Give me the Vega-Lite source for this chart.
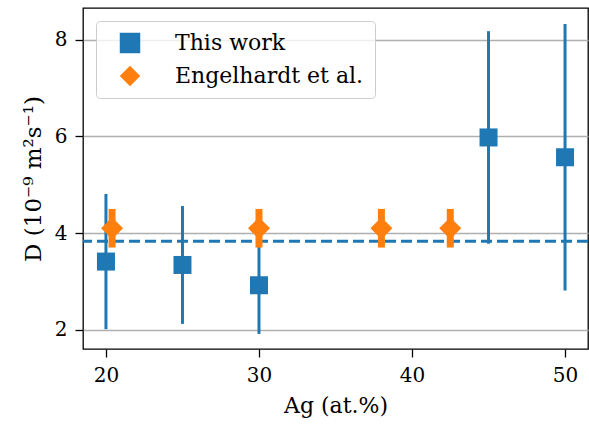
{
  "$schema": "https://vega.github.io/schema/vega-lite/v6.json",
  "width": 505,
  "height": 341,
  "autosize": {"type": "none"},
  "padding": {"left": 83, "top": 8, "right": 1, "bottom": 75},
  "config": {
    "font": "DejaVu Serif",
    "view": {"stroke": "black", "strokeWidth": 1.3},
    "axis": {
      "domain": false,
      "tickColor": "black",
      "tickSize": 8,
      "tickWidth": 1.3,
      "labelFont": "DejaVu Serif",
      "labelFontSize": 20,
      "labelColor": "black",
      "labelPadding": 8,
      "titleFont": "DejaVu Serif",
      "titleFontSize": 22,
      "titleFontWeight": "normal",
      "titleColor": "black",
      "titlePadding": 10
    },
    "legend": {
      "orient": "top-left",
      "offset": 13,
      "padding": 11,
      "labelFont": "DejaVu Serif",
      "labelFontSize": 22,
      "labelColor": "black",
      "labelLimit": 400,
      "symbolSize": 420,
      "symbolOffset": 12,
      "labelOffset": 34,
      "rowPadding": 11,
      "strokeColor": "#cccccc",
      "fillColor": "rgba(255,255,255,0.8)",
      "cornerRadius": 4,
      "symbolStrokeWidth": 0
    }
  },
  "datasets": {
    "pts": [
      {"series": "This work", "ag": 20, "D": 3.41, "lo": 2.01, "hi": 4.81},
      {"series": "This work", "ag": 25, "D": 3.34, "lo": 2.12, "hi": 4.56},
      {"series": "This work", "ag": 30, "D": 2.92, "lo": 1.91, "hi": 3.93},
      {"series": "This work", "ag": 45, "D": 5.98, "lo": 3.78, "hi": 8.18},
      {"series": "This work", "ag": 50, "D": 5.57, "lo": 2.81, "hi": 8.33},
      {"series": "Engelhardt et al.", "ag": 20.4, "D": 4.1, "lo": 3.7, "hi": 4.5},
      {"series": "Engelhardt et al.", "ag": 30, "D": 4.1, "lo": 3.7, "hi": 4.5},
      {"series": "Engelhardt et al.", "ag": 38, "D": 4.1, "lo": 3.7, "hi": 4.5},
      {"series": "Engelhardt et al.", "ag": 42.5, "D": 4.1, "lo": 3.7, "hi": 4.5}
    ],
    "mean": [{"D": 3.83}]
  },
  "layer": [
    {
      "data": {"name": "mean"},
      "mark": {"type": "rule", "color": "#1f77b4", "strokeWidth": 3, "strokeDash": [11, 5]},
      "encoding": {
        "y": {"field": "D", "type": "quantitative", "scale": {"domain": [1.6, 8.66], "nice": false, "zero": false},
          "axis": {"values": [2, 4, 6, 8], "grid": true, "gridColor": "#b0b0b0", "gridWidth": 1.3, "title": "D (10⁻⁹ m²s⁻¹)", "titleFontSize": 23, "titlePadding": 9}}
      }
    },
    {
      "data": {"name": "pts"},
      "transform": [{"filter": "datum.series === 'This work'"}],
      "mark": {"type": "rule", "color": "#1f77b4", "strokeWidth": 3},
      "encoding": {
        "x": {"field": "ag", "type": "quantitative", "scale": {"domain": [18.5, 51.5], "nice": false, "zero": false},
          "axis": {"values": [20, 30, 40, 50], "grid": false, "title": "Ag (at.%)"}},
        "y": {"field": "lo", "type": "quantitative"},
        "y2": {"field": "hi"}
      }
    },
    {
      "data": {"name": "pts"},
      "transform": [{"filter": "datum.series !== 'This work'"}],
      "mark": {"type": "rule", "color": "#ff7f0e", "strokeWidth": 7},
      "encoding": {
        "x": {"field": "ag", "type": "quantitative"},
        "y": {"field": "lo", "type": "quantitative"},
        "y2": {"field": "hi"}
      }
    },
    {
      "data": {"name": "pts"},
      "transform": [{"filter": "datum.series === 'This work'"}],
      "mark": {"type": "point", "filled": true, "opacity": 1, "size": 324},
      "encoding": {
        "x": {"field": "ag", "type": "quantitative"},
        "y": {"field": "D", "type": "quantitative"},
        "color": {"field": "series", "type": "nominal", "scale": {"domain": ["This work", "Engelhardt et al."], "range": ["#1f77b4", "#ff7f0e"]}, "legend": {"title": null}},
        "shape": {"field": "series", "type": "nominal", "scale": {"domain": ["This work", "Engelhardt et al."], "range": ["square", "diamond"]}, "legend": {"title": null}}
      }
    },
    {
      "data": {"name": "pts"},
      "transform": [{"filter": "datum.series !== 'This work'"}],
      "mark": {"type": "point", "filled": true, "opacity": 1, "size": 484},
      "encoding": {
        "x": {"field": "ag", "type": "quantitative"},
        "y": {"field": "D", "type": "quantitative"},
        "color": {"field": "series", "type": "nominal", "legend": {"title": null}},
        "shape": {"field": "series", "type": "nominal", "legend": {"title": null}}
      }
    }
  ]
}
